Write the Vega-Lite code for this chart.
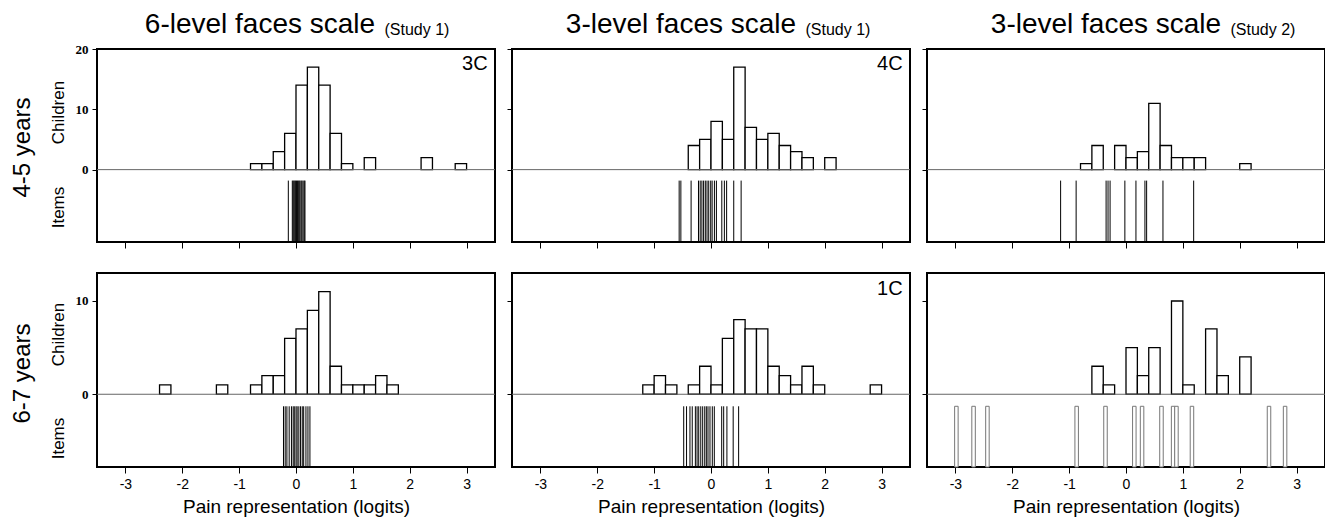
{
"$schema": "https://vega.github.io/schema/vega-lite/v6.json",
"padding": {"left": 8, "top": 10, "right": 0, "bottom": 0},
"background": "white",
"spacing": 22,
"datasets": {
"one": [{"k": 1}],
"bars": [
{"p":"A","lo":-0.8,"hi":-0.6,"n":1},{"p":"A","lo":-0.6,"hi":-0.4,"n":1},{"p":"A","lo":-0.4,"hi":-0.2,"n":3},{"p":"A","lo":-0.2,"hi":0,"n":6},{"p":"A","lo":0,"hi":0.2,"n":14},{"p":"A","lo":0.2,"hi":0.4,"n":17},{"p":"A","lo":0.4,"hi":0.6,"n":14},{"p":"A","lo":0.6,"hi":0.8,"n":6},{"p":"A","lo":0.8,"hi":1.0,"n":1},{"p":"A","lo":1.2,"hi":1.4,"n":2},{"p":"A","lo":2.2,"hi":2.4,"n":2},{"p":"A","lo":2.8,"hi":3.0,"n":1},
{"p":"B","lo":-0.4,"hi":-0.2,"n":4},{"p":"B","lo":-0.2,"hi":0,"n":5},{"p":"B","lo":0,"hi":0.2,"n":8},{"p":"B","lo":0.2,"hi":0.4,"n":5},{"p":"B","lo":0.4,"hi":0.6,"n":17},{"p":"B","lo":0.6,"hi":0.8,"n":7},{"p":"B","lo":0.8,"hi":1.0,"n":5},{"p":"B","lo":1.0,"hi":1.2,"n":6},{"p":"B","lo":1.2,"hi":1.4,"n":4},{"p":"B","lo":1.4,"hi":1.6,"n":3},{"p":"B","lo":1.6,"hi":1.8,"n":2},{"p":"B","lo":2.0,"hi":2.2,"n":2},
{"p":"C","lo":-0.8,"hi":-0.6,"n":1},{"p":"C","lo":-0.6,"hi":-0.4,"n":4},{"p":"C","lo":-0.2,"hi":0,"n":4},{"p":"C","lo":0,"hi":0.2,"n":2},{"p":"C","lo":0.2,"hi":0.4,"n":3},{"p":"C","lo":0.4,"hi":0.6,"n":11},{"p":"C","lo":0.6,"hi":0.8,"n":4},{"p":"C","lo":0.8,"hi":1.0,"n":2},{"p":"C","lo":1.0,"hi":1.2,"n":2},{"p":"C","lo":1.2,"hi":1.4,"n":2},{"p":"C","lo":2.0,"hi":2.2,"n":1},
{"p":"D","lo":-2.4,"hi":-2.2,"n":1},{"p":"D","lo":-1.4,"hi":-1.2,"n":1},{"p":"D","lo":-0.8,"hi":-0.6,"n":1},{"p":"D","lo":-0.6,"hi":-0.4,"n":2},{"p":"D","lo":-0.4,"hi":-0.2,"n":2},{"p":"D","lo":-0.2,"hi":0,"n":6},{"p":"D","lo":0,"hi":0.2,"n":7},{"p":"D","lo":0.2,"hi":0.4,"n":9},{"p":"D","lo":0.4,"hi":0.6,"n":11},{"p":"D","lo":0.6,"hi":0.8,"n":3},{"p":"D","lo":0.8,"hi":1.0,"n":1},{"p":"D","lo":1.0,"hi":1.2,"n":1},{"p":"D","lo":1.2,"hi":1.4,"n":1},{"p":"D","lo":1.4,"hi":1.6,"n":2},{"p":"D","lo":1.6,"hi":1.8,"n":1},
{"p":"E","lo":-1.2,"hi":-1.0,"n":1},{"p":"E","lo":-1.0,"hi":-0.8,"n":2},{"p":"E","lo":-0.8,"hi":-0.6,"n":1},{"p":"E","lo":-0.4,"hi":-0.2,"n":1},{"p":"E","lo":-0.2,"hi":0,"n":3},{"p":"E","lo":0,"hi":0.2,"n":1},{"p":"E","lo":0.2,"hi":0.4,"n":6},{"p":"E","lo":0.4,"hi":0.6,"n":8},{"p":"E","lo":0.6,"hi":0.8,"n":7},{"p":"E","lo":0.8,"hi":1.0,"n":7},{"p":"E","lo":1.0,"hi":1.2,"n":3},{"p":"E","lo":1.2,"hi":1.4,"n":2},{"p":"E","lo":1.4,"hi":1.6,"n":1},{"p":"E","lo":1.6,"hi":1.8,"n":3},{"p":"E","lo":1.8,"hi":2.0,"n":1},{"p":"E","lo":2.8,"hi":3.0,"n":1},
{"p":"F","lo":-0.6,"hi":-0.4,"n":3},{"p":"F","lo":-0.4,"hi":-0.2,"n":1},{"p":"F","lo":0,"hi":0.2,"n":5},{"p":"F","lo":0.2,"hi":0.4,"n":2},{"p":"F","lo":0.4,"hi":0.6,"n":5},{"p":"F","lo":0.8,"hi":1.0,"n":10},{"p":"F","lo":1.0,"hi":1.2,"n":1},{"p":"F","lo":1.4,"hi":1.6,"n":7},{"p":"F","lo":1.6,"hi":1.8,"n":2},{"p":"F","lo":2.0,"hi":2.2,"n":4}
],
"items": [
{"p":"A","v":-0.135},{"p":"A","v":-0.065},{"p":"A","v":-0.05},{"p":"A","v":-0.035},{"p":"A","v":-0.02},{"p":"A","v":-0.006},{"p":"A","v":0.01},{"p":"A","v":0.025},{"p":"A","v":0.04},{"p":"A","v":0.055},{"p":"A","v":0.07},{"p":"A","v":0.09},{"p":"A","v":0.105},{"p":"A","v":0.125},{"p":"A","v":0.145},{"p":"A","v":0.158},
{"p":"B","v":-0.56},{"p":"B","v":-0.53},{"p":"B","v":-0.35},{"p":"B","v":-0.22},{"p":"B","v":-0.19},{"p":"B","v":-0.16},{"p":"B","v":-0.13},{"p":"B","v":-0.1},{"p":"B","v":-0.07},{"p":"B","v":-0.04},{"p":"B","v":-0.005},{"p":"B","v":0.02},{"p":"B","v":0.06},{"p":"B","v":0.095},{"p":"B","v":0.19},{"p":"B","v":0.235},{"p":"B","v":0.275},{"p":"B","v":0.4},{"p":"B","v":0.53},
{"p":"C","v":-1.15},{"p":"C","v":-0.877},{"p":"C","v":-0.35},{"p":"C","v":-0.316},{"p":"C","v":-0.28},{"p":"C","v":-0.02},{"p":"C","v":0.175},{"p":"C","v":0.333},{"p":"C","v":0.363},{"p":"C","v":0.65},{"p":"C","v":1.19},
{"p":"D","v":-0.22},{"p":"D","v":-0.19},{"p":"D","v":-0.16},{"p":"D","v":-0.12},{"p":"D","v":-0.08},{"p":"D","v":-0.05},{"p":"D","v":-0.03},{"p":"D","v":0.0},{"p":"D","v":0.02},{"p":"D","v":0.05},{"p":"D","v":0.08},{"p":"D","v":0.11},{"p":"D","v":0.135},{"p":"D","v":0.175},{"p":"D","v":0.21},{"p":"D","v":0.245},
{"p":"E","v":-0.48},{"p":"E","v":-0.43},{"p":"E","v":-0.37},{"p":"E","v":-0.33},{"p":"E","v":-0.275},{"p":"E","v":-0.245},{"p":"E","v":-0.216},{"p":"E","v":-0.18},{"p":"E","v":-0.146},{"p":"E","v":-0.11},{"p":"E","v":-0.082},{"p":"E","v":-0.053},{"p":"E","v":-0.018},{"p":"E","v":0.023},{"p":"E","v":0.058},{"p":"E","v":0.188},{"p":"E","v":0.223},{"p":"E","v":0.28},{"p":"E","v":0.39},{"p":"E","v":0.486},
{"p":"F","v":-3.06},{"p":"F","v":-2.75},{"p":"F","v":-2.5},{"p":"F","v":-0.89},{"p":"F","v":-0.37},{"p":"F","v":0.15},{"p":"F","v":0.29},{"p":"F","v":0.64},{"p":"F","v":0.85},{"p":"F","v":0.91},{"p":"F","v":1.19},{"p":"F","v":2.58},{"p":"F","v":2.87}
]
},
"vconcat": [
{"spacing": 8, "hconcat": [
{"width": 398, "height": 193,
 "title": {"text": "6-level faces scale", "fontSize": 28, "dx": -36, "baseline": "alphabetic", "offset": -40, "anchor": "middle"},
 "resolve": {"scale": {"x": "independent", "y": "independent"}},
 "layer": [
  {"data": {"name": "bars"}, "transform": [{"filter": "datum.p == 'A'"}],
   "mark": {"type": "rect", "fill": "white", "stroke": "black", "strokeWidth": 1.3},
   "encoding": {
    "x": {"field": "lo", "type": "quantitative", "scale": {"domain": [-3.5, 3.5], "nice": false, "zero": false},
          "axis": {"orient": "bottom", "values": [-3,-2,-1,0,1,2,3], "tickSize": 6, "labels": false, "title": null}},
    "x2": {"field": "hi"},
    "y": {"field": "n", "type": "quantitative", "scale": {"domain": [-12, 20], "nice": false, "zero": false},
          "axis": {"orient": "left", "values": [0,10,20], "tickSize": 5, "labelFont": "Liberation Serif", "labelFontWeight": "bold", "labelFontSize": 13, "labelPadding": 4, "title": "Children", "titleFontSize": 17, "titleX": -34, "titleY": 63, "titleAngle": -90, "titleBaseline": "alphabetic", "titleAlign": "center"}},
    "y2": {"datum": 0}}},
  {"data": {"name": "one"}, "mark": {"type": "rule", "color": "#666", "strokeWidth": 1},
   "encoding": {"y": {"datum": 0, "type": "quantitative", "scale": {"domain": [-12, 20], "nice": false, "zero": false},
     "axis": {"orient": "left", "ticks": false, "labels": false, "title": "4-5 years", "titleFontSize": 24, "titleX": -68, "titleY": 98, "titleAngle": -90, "titleBaseline": "alphabetic", "titleAlign": "center"}}}},
  {"data": {"name": "items"}, "transform": [{"filter": "datum.p == 'A'"}],
   "mark": {"type": "rule", "color": "black", "strokeWidth": 1},
   "encoding": {
    "x": {"field": "v", "type": "quantitative", "scale": {"domain": [-3.5, 3.5], "nice": false, "zero": false},
      "axis": {"orient": "top", "ticks": false, "labels": false, "title": "(Study 1)", "titleFontSize": 16, "titleX": 287, "titleY": -15, "titleAlign": "left", "titleBaseline": "alphabetic", "titleAngle": 0}},
    "y": {"datum": -1.82, "type": "quantitative", "scale": {"domain": [-12, 20], "nice": false, "zero": false},
      "axis": {"orient": "left", "ticks": false, "labels": false, "title": "Items", "titleFontSize": 17, "titleX": -34, "titleY": 158, "titleAngle": -90, "titleBaseline": "alphabetic", "titleAlign": "center"}},
    "y2": {"datum": -12}}},
  {"data": {"values": [{"label": "3C"}]}, "mark": {"type": "text", "align": "right", "baseline": "alphabetic", "fontSize": 20, "color": "black"},
   "encoding": {"text": {"field": "label"},
    "x": {"datum": 3.37, "type": "quantitative", "scale": {"domain": [-3.5, 3.5], "nice": false, "zero": false}, "axis": null},
    "y": {"datum": 16.6, "type": "quantitative", "scale": {"domain": [-12, 20], "nice": false, "zero": false}, "axis": null}}}
 ]},
{"width": 398, "height": 193,
 "title": {"text": "3-level faces scale", "fontSize": 28, "dx": -30, "baseline": "alphabetic", "offset": -40, "anchor": "middle"},
 "resolve": {"scale": {"x": "independent", "y": "independent"}},
 "layer": [
  {"data": {"name": "bars"}, "transform": [{"filter": "datum.p == 'B'"}],
   "mark": {"type": "rect", "fill": "white", "stroke": "black", "strokeWidth": 1.3},
   "encoding": {
    "x": {"field": "lo", "type": "quantitative", "scale": {"domain": [-3.5, 3.5], "nice": false, "zero": false},
          "axis": {"orient": "bottom", "values": [-3,-2,-1,0,1,2,3], "tickSize": 6, "labels": false, "title": null}},
    "x2": {"field": "hi"},
    "y": {"field": "n", "type": "quantitative", "scale": {"domain": [-12, 20], "nice": false, "zero": false},
          "axis": {"orient": "left", "values": [0,10,20], "tickSize": 5, "labels": false, "title": null}},
    "y2": {"datum": 0}}},
  {"data": {"name": "one"}, "mark": {"type": "rule", "color": "#666", "strokeWidth": 1},
   "encoding": {"y": {"datum": 0, "type": "quantitative", "scale": {"domain": [-12, 20], "nice": false, "zero": false}, "axis": null}}},
  {"data": {"name": "items"}, "transform": [{"filter": "datum.p == 'B'"}],
   "mark": {"type": "rule", "color": "black", "strokeWidth": 1},
   "encoding": {
    "x": {"field": "v", "type": "quantitative", "scale": {"domain": [-3.5, 3.5], "nice": false, "zero": false},
      "axis": {"orient": "top", "ticks": false, "labels": false, "title": "(Study 1)", "titleFontSize": 16, "titleX": 293, "titleY": -15, "titleAlign": "left", "titleBaseline": "alphabetic", "titleAngle": 0}},
    "y": {"datum": -1.82, "type": "quantitative", "scale": {"domain": [-12, 20], "nice": false, "zero": false}, "axis": null},
    "y2": {"datum": -12}}},
  {"data": {"values": [{"label": "4C"}]}, "mark": {"type": "text", "align": "right", "baseline": "alphabetic", "fontSize": 20, "color": "black"},
   "encoding": {"text": {"field": "label"},
    "x": {"datum": 3.37, "type": "quantitative", "scale": {"domain": [-3.5, 3.5], "nice": false, "zero": false}, "axis": null},
    "y": {"datum": 16.6, "type": "quantitative", "scale": {"domain": [-12, 20], "nice": false, "zero": false}, "axis": null}}}
 ]},
{"width": 398, "height": 193,
 "title": {"text": "3-level faces scale", "fontSize": 28, "dx": -20, "baseline": "alphabetic", "offset": -40, "anchor": "middle"},
 "resolve": {"scale": {"x": "independent", "y": "independent"}},
 "layer": [
  {"data": {"name": "bars"}, "transform": [{"filter": "datum.p == 'C'"}],
   "mark": {"type": "rect", "fill": "white", "stroke": "black", "strokeWidth": 1.3},
   "encoding": {
    "x": {"field": "lo", "type": "quantitative", "scale": {"domain": [-3.5, 3.5], "nice": false, "zero": false},
          "axis": {"orient": "bottom", "values": [-3,-2,-1,0,1,2,3], "tickSize": 6, "labels": false, "title": null}},
    "x2": {"field": "hi"},
    "y": {"field": "n", "type": "quantitative", "scale": {"domain": [-12, 20], "nice": false, "zero": false},
          "axis": {"orient": "left", "values": [0,10,20], "tickSize": 5, "labels": false, "title": null}},
    "y2": {"datum": 0}}},
  {"data": {"name": "one"}, "mark": {"type": "rule", "color": "#666", "strokeWidth": 1},
   "encoding": {"y": {"datum": 0, "type": "quantitative", "scale": {"domain": [-12, 20], "nice": false, "zero": false}, "axis": null}}},
  {"data": {"name": "items"}, "transform": [{"filter": "datum.p == 'C'"}],
   "mark": {"type": "rule", "color": "black", "strokeWidth": 1},
   "encoding": {
    "x": {"field": "v", "type": "quantitative", "scale": {"domain": [-3.5, 3.5], "nice": false, "zero": false},
      "axis": {"orient": "top", "ticks": false, "labels": false, "title": "(Study 2)", "titleFontSize": 16, "titleX": 303, "titleY": -15, "titleAlign": "left", "titleBaseline": "alphabetic", "titleAngle": 0}},
    "y": {"datum": -1.82, "type": "quantitative", "scale": {"domain": [-12, 20], "nice": false, "zero": false}, "axis": null},
    "y2": {"datum": -12}}}
 ]}
]},
{"spacing": 8, "hconcat": [
{"width": 398, "height": 194,
 "resolve": {"scale": {"x": "independent", "y": "independent"}},
 "layer": [
  {"data": {"name": "bars"}, "transform": [{"filter": "datum.p == 'D'"}],
   "mark": {"type": "rect", "fill": "white", "stroke": "black", "strokeWidth": 1.3},
   "encoding": {
    "x": {"field": "lo", "type": "quantitative", "scale": {"domain": [-3.5, 3.5], "nice": false, "zero": false},
          "axis": {"orient": "bottom", "values": [-3,-2,-1,0,1,2,3], "tickSize": 6, "labelFontSize": 14, "labelPadding": 4, "labelExpr": "toString(datum.value)", "title": "Pain representation (logits)", "titleFontSize": 19, "titlePadding": 6}},
    "x2": {"field": "hi"},
    "y": {"field": "n", "type": "quantitative", "scale": {"domain": [-7.8, 13], "nice": false, "zero": false},
          "axis": {"orient": "left", "values": [0,10], "tickSize": 5, "labelFont": "Liberation Serif", "labelFontWeight": "bold", "labelFontSize": 13, "labelPadding": 4, "title": "Children", "titleFontSize": 17, "titleX": -34, "titleY": 61, "titleAngle": -90, "titleBaseline": "alphabetic", "titleAlign": "center"}},
    "y2": {"datum": 0}}},
  {"data": {"name": "one"}, "mark": {"type": "rule", "color": "#666", "strokeWidth": 1},
   "encoding": {"y": {"datum": 0, "type": "quantitative", "scale": {"domain": [-7.8, 13], "nice": false, "zero": false},
     "axis": {"orient": "left", "ticks": false, "labels": false, "title": "6-7 years", "titleFontSize": 24, "titleX": -68, "titleY": 100, "titleAngle": -90, "titleBaseline": "alphabetic", "titleAlign": "center"}}}},
  {"data": {"name": "items"}, "transform": [{"filter": "datum.p == 'D'"}],
   "mark": {"type": "rule", "color": "black", "strokeWidth": 1},
   "encoding": {
    "x": {"field": "v", "type": "quantitative", "scale": {"domain": [-3.5, 3.5], "nice": false, "zero": false}, "axis": null},
    "y": {"datum": -1.29, "type": "quantitative", "scale": {"domain": [-7.8, 13], "nice": false, "zero": false},
      "axis": {"orient": "left", "ticks": false, "labels": false, "title": "Items", "titleFontSize": 17, "titleX": -34, "titleY": 165, "titleAngle": -90, "titleBaseline": "alphabetic", "titleAlign": "center"}},
    "y2": {"datum": -7.8}}}
 ]},
{"width": 398, "height": 194,
 "resolve": {"scale": {"x": "independent", "y": "independent"}},
 "layer": [
  {"data": {"name": "bars"}, "transform": [{"filter": "datum.p == 'E'"}],
   "mark": {"type": "rect", "fill": "white", "stroke": "black", "strokeWidth": 1.3},
   "encoding": {
    "x": {"field": "lo", "type": "quantitative", "scale": {"domain": [-3.5, 3.5], "nice": false, "zero": false},
          "axis": {"orient": "bottom", "values": [-3,-2,-1,0,1,2,3], "tickSize": 6, "labelFontSize": 14, "labelPadding": 4, "labelExpr": "toString(datum.value)", "title": "Pain representation (logits)", "titleFontSize": 19, "titlePadding": 6}},
    "x2": {"field": "hi"},
    "y": {"field": "n", "type": "quantitative", "scale": {"domain": [-7.8, 13], "nice": false, "zero": false},
          "axis": {"orient": "left", "values": [0,10], "tickSize": 5, "labels": false, "title": null}},
    "y2": {"datum": 0}}},
  {"data": {"name": "one"}, "mark": {"type": "rule", "color": "#666", "strokeWidth": 1},
   "encoding": {"y": {"datum": 0, "type": "quantitative", "scale": {"domain": [-7.8, 13], "nice": false, "zero": false}, "axis": null}}},
  {"data": {"name": "items"}, "transform": [{"filter": "datum.p == 'E'"}],
   "mark": {"type": "rule", "color": "black", "strokeWidth": 1},
   "encoding": {
    "x": {"field": "v", "type": "quantitative", "scale": {"domain": [-3.5, 3.5], "nice": false, "zero": false}, "axis": null},
    "y": {"datum": -1.29, "type": "quantitative", "scale": {"domain": [-7.8, 13], "nice": false, "zero": false}, "axis": null},
    "y2": {"datum": -7.8}}},
  {"data": {"values": [{"label": "1C"}]}, "mark": {"type": "text", "align": "right", "baseline": "alphabetic", "fontSize": 20, "color": "black"},
   "encoding": {"text": {"field": "label"},
    "x": {"datum": 3.37, "type": "quantitative", "scale": {"domain": [-3.5, 3.5], "nice": false, "zero": false}, "axis": null},
    "y": {"datum": 10.6, "type": "quantitative", "scale": {"domain": [-7.8, 13], "nice": false, "zero": false}, "axis": null}}}
 ]},
{"width": 398, "height": 194,
 "resolve": {"scale": {"x": "independent", "y": "independent"}},
 "layer": [
  {"data": {"name": "bars"}, "transform": [{"filter": "datum.p == 'F'"}],
   "mark": {"type": "rect", "fill": "white", "stroke": "black", "strokeWidth": 1.3},
   "encoding": {
    "x": {"field": "lo", "type": "quantitative", "scale": {"domain": [-3.5, 3.5], "nice": false, "zero": false},
          "axis": {"orient": "bottom", "values": [-3,-2,-1,0,1,2,3], "tickSize": 6, "labelFontSize": 14, "labelPadding": 4, "labelExpr": "toString(datum.value)", "title": "Pain representation (logits)", "titleFontSize": 19, "titlePadding": 6}},
    "x2": {"field": "hi"},
    "y": {"field": "n", "type": "quantitative", "scale": {"domain": [-7.8, 13], "nice": false, "zero": false},
          "axis": {"orient": "left", "values": [0,10], "tickSize": 5, "labels": false, "title": null}},
    "y2": {"datum": 0}}},
  {"data": {"name": "one"}, "mark": {"type": "rule", "color": "#666", "strokeWidth": 1},
   "encoding": {"y": {"datum": 0, "type": "quantitative", "scale": {"domain": [-7.8, 13], "nice": false, "zero": false}, "axis": null}}},
  {"data": {"name": "items"}, "transform": [{"filter": "datum.p == 'F'"}],
   "mark": {"type": "bar", "orient": "vertical", "size": 3.5, "fill": "white", "stroke": "#777", "strokeWidth": 1},
   "encoding": {
    "x": {"field": "v", "type": "quantitative", "scale": {"domain": [-3.5, 3.5], "nice": false, "zero": false}, "axis": null},
    "y": {"datum": -1.29, "type": "quantitative", "scale": {"domain": [-7.8, 13], "nice": false, "zero": false}, "axis": null},
    "y2": {"datum": -7.8}}}
 ]}
]}
],
"config": {
 "font": "Liberation Sans",
 "view": {"stroke": "black", "strokeWidth": 2},
 "axis": {"grid": false, "domain": false, "tickColor": "black", "tickWidth": 1, "labelColor": "black", "titleColor": "black", "titleFontWeight": "normal", "titleFont": "Liberation Sans", "labelFont": "Liberation Sans"},
 "title": {"font": "Liberation Sans", "fontWeight": "normal", "color": "black"}
}
}
